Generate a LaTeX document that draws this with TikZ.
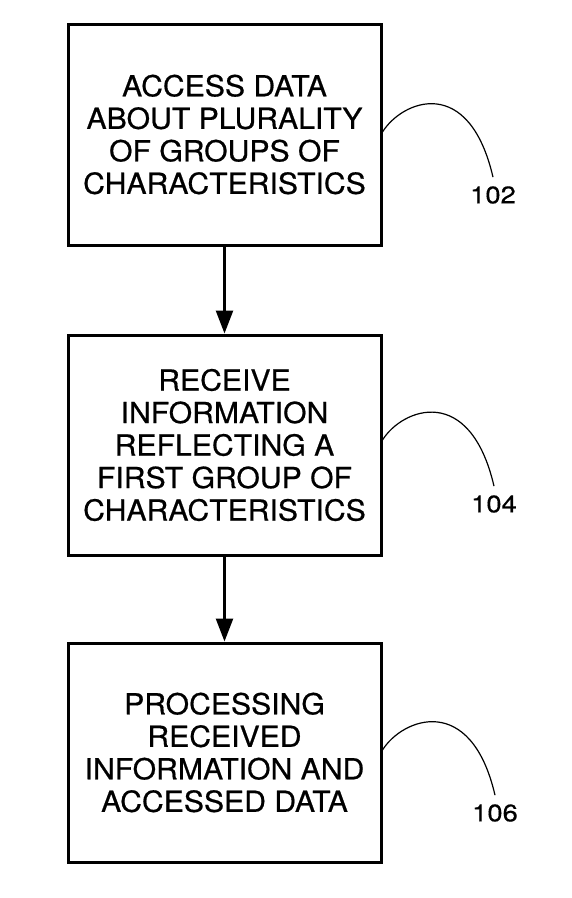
\documentclass[tikz,border=0pt]{standalone}
\usepackage{fontspec}
\usetikzlibrary{arrows.meta}
\newfontfamily\boxfont[FakeStretch=1.04,FakeBold=0.6]{TeX Gyre Heros}
\newfontfamily\labfont[FakeStretch=1.14,FakeBold=0.5]{TeX Gyre Heros}
\begin{document}
\begin{tikzpicture}[x=1pt,y=1pt,
  stepbox/.style={draw=black, line width=3pt, minimum width=313pt, inner sep=0pt,
    align=center, font=\boxfont\fontsize{29pt}{32.5pt}\selectfont},
  flow/.style={line width=2.5pt, -{Triangle[width=17pt,length=23pt]}},
  leader/.style={line width=1.2pt},
  reflabel/.style={inner xsep=0pt, inner ysep=9pt, font=\labfont\fontsize{24pt}{28pt}\selectfont}]
\useasboundingbox (0,0) rectangle (571,-898);
\node[stepbox, minimum height=221pt] (b1) at (224.5,-134.5)
  {ACCESS DATA\\ABOUT PLURALITY\\OF GROUPS OF\\CHARACTERISTICS};
\node[stepbox, minimum height=220pt] (b2) at (224.5,-445)
  {RECEIVE\\INFORMATION\\REFLECTING A\\FIRST GROUP OF\\CHARACTERISTICS};
\node[stepbox, minimum height=219pt] (b3) at (224.5,-752.5)
  {PROCESSING\\RECEIVED\\INFORMATION AND\\ACCESSED DATA};
\draw[flow] (b1.south) -- (b2.north);
\draw[flow] (b2.south) -- (b3.north);
\node[reflabel] (l1) at (493,-195) {102};
\node[reflabel] (l2) at (494,-504) {104};
\node[reflabel] (l3) at (495,-813) {106};
\draw[leader] ([yshift=2.5pt]b1.east) .. controls +(20,32) and +(-24,103) .. (l1.north);
\draw[leader] ([yshift=5pt]b2.east) .. controls +(20,32) and +(-24,103) .. (l2.north);
\draw[leader] ([yshift=2.5pt]b3.east) .. controls +(20,32) and +(-24,103) .. (l3.north);
\end{tikzpicture}
\end{document}
